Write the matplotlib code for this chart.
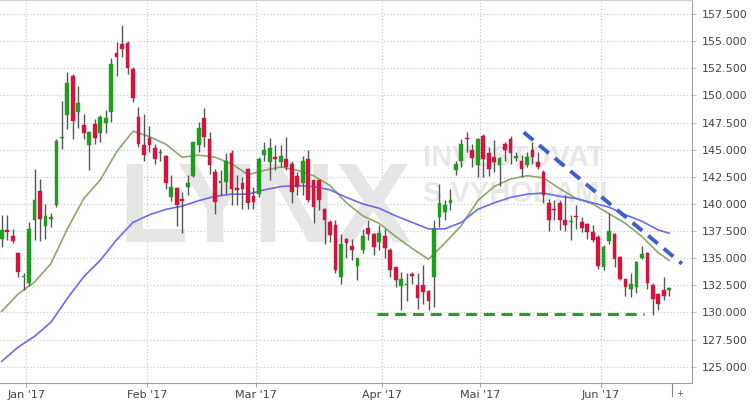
import numpy as np
import pandas as pd
import matplotlib
matplotlib.use("Agg")
import matplotlib.pyplot as plt
from matplotlib.patches import Rectangle
import matplotlib.transforms as mtransforms

# ---------------- data ----------------
holidays = ["2016-12-26", "2017-04-14", "2017-04-17", "2017-05-01"]
dates = pd.bdate_range("2016-12-23", "2017-06-19")
dates = dates[~dates.isin(pd.to_datetime(holidays))]

opens = [136.8, 137.55, 137.0, 135.5, 133.25, 132.7, 138.5, 141.2, 138.0, 138.6,
         139.9, 146.05, 148.2, 151.8, 148.5, 147.25, 145.4, 147.4, 146.5, 147.5,
         148.5, 153.9, 154.75, 154.8, 152.45, 148.0, 145.4, 146.1, 145.15, 144.65,
         144.4, 140.65, 141.5, 140.4, 141.55, 142.55, 145.4, 147.95, 146.0, 142.95,
         141.95, 142.0, 144.7, 141.4, 141.95, 143.25, 140.7, 140.95, 144.5, 143.85,
         144.3, 143.85, 144.1, 143.65, 142.6, 141.95, 144.1, 142.2, 142.2, 139.5,
         138.35, 138.05, 133.3, 136.8, 136.1, 134.25, 135.75, 137.8, 137.2, 136.5,
         137.0, 135.8, 134.15, 132.45, 132.5, 133.5, 132.5, 132.5, 132.0, 133.3,
         138.8, 139.25, 140.05, 143.1, 144.0, 146.05, 144.95, 143.55, 146.3, 144.7,
         144.35, 143.55, 145.5, 146.0, 144.2, 144.0, 143.55, 145.0, 143.85, 142.95,
         140.05, 139.5, 140.05, 138.5, 138.3, 138.85, 138.35, 138.15, 137.4, 136.95,
         134.2, 136.6, 137.2, 135.1, 133.05, 132.2, 132.35, 135.05, 135.5, 132.5,
         131.7, 132.05, 132.1]
highs = [139.0, 139.0, 137.7, 135.6, 133.6, 138.3, 143.2, 142.3, 140.0, 139.2,
         146.0, 149.5, 152.15, 152.0, 150.9, 148.3, 146.7, 147.85, 148.15, 148.7,
         153.4, 154.9, 156.45, 155.0, 152.6, 148.9, 148.3, 147.15, 145.5, 145.1,
         144.5, 142.7, 141.55, 141.1, 142.65, 145.75, 147.55, 148.85, 146.6, 143.25,
         143.1, 144.65, 144.95, 142.65, 142.5, 143.3, 141.55, 144.3, 145.7, 146.1,
         145.4, 145.4, 146.15, 144.0, 142.95, 144.4, 144.95, 142.25, 142.25, 139.6,
         138.5, 138.5, 137.25, 136.85, 136.8, 135.05, 137.7, 138.55, 137.3, 138.1,
         137.7, 135.9, 134.2, 133.75, 133.6, 133.75, 133.6, 134.35, 132.05, 138.5,
         141.85, 140.35, 141.4, 144.0, 146.0, 146.6, 145.5, 146.05, 146.45, 145.25,
         145.85, 144.35, 145.7, 146.25, 144.8, 144.55, 144.8, 145.7, 144.8, 143.1,
         140.5, 140.35, 140.35, 140.8, 138.95, 139.9, 138.8, 138.25, 138.05, 137.1,
         136.2, 139.15, 137.3, 135.2, 133.1, 133.65, 134.7, 136.1, 135.55, 132.7,
         131.8, 133.3, 132.3]
lows = [136.0, 136.7, 136.4, 133.3, 132.1, 132.4, 136.7, 136.6, 136.75, 137.9,
        139.7, 145.1, 146.9, 146.0, 147.0, 146.0, 143.1, 145.5, 145.7, 146.5,
        147.55, 151.8, 153.5, 152.0, 149.4, 145.25, 144.0, 144.8, 143.65, 144.0,
        141.4, 140.3, 138.0, 137.3, 140.8, 142.5, 144.8, 145.25, 142.8, 139.05,
        140.8, 140.95, 139.9, 139.9, 139.5, 139.55, 139.55, 140.65, 144.0, 142.2,
        143.1, 143.4, 143.1, 140.05, 140.8, 140.8, 140.2, 138.2, 139.4, 136.35,
        136.5, 133.6, 132.65, 135.0, 134.8, 133.0, 135.45, 136.65, 135.3, 135.75,
        135.0, 133.3, 132.35, 130.2, 131.1, 132.65, 130.35, 130.8, 130.2, 130.5,
        137.9, 138.5, 139.4, 142.65, 143.4, 144.8, 143.4, 142.5, 142.5, 142.55,
        142.95, 141.65, 144.0, 143.7, 144.0, 142.5, 143.4, 143.65, 143.25, 140.05,
        137.5, 138.5, 137.6, 137.5, 136.65, 137.65, 137.4, 136.8, 136.5, 134.05,
        133.9, 136.3, 134.2, 132.95, 131.5, 131.45, 131.75, 134.95, 132.2, 129.75,
        130.2, 131.15, 131.5]
closes = [137.6, 137.45, 136.6, 133.7, 133.35, 137.7, 140.4, 138.6, 138.9, 138.75,
          145.8, 146.15, 151.1, 147.6, 149.3, 146.55, 146.6, 146.1, 148.0, 147.9,
          152.9, 153.5, 154.3, 152.5, 149.8, 145.55, 144.5, 145.4, 144.1, 144.75,
          141.9, 141.6, 139.9, 140.3, 141.9, 145.7, 147.0, 146.15, 143.55, 140.2,
          142.05, 144.0, 141.4, 141.3, 141.4, 140.05, 140.2, 144.1, 144.95, 145.15,
          144.1, 144.4, 143.4, 141.1, 141.55, 143.95, 140.35, 139.7, 140.35, 138.55,
          137.1, 133.9, 136.35, 136.4, 135.75, 135.0, 137.0, 137.25, 136.05, 137.35,
          135.9, 133.95, 133.0, 133.05, 132.6, 133.4, 131.3, 131.9, 131.05, 137.65,
          140.05, 139.9, 140.35, 143.65, 145.5, 145.95, 144.2, 146.0, 144.1, 143.25,
          143.85, 144.2, 145.0, 144.65, 144.4, 143.25, 144.35, 144.35, 143.4, 140.8,
          138.5, 139.4, 138.55, 138.05, 138.4, 138.75, 137.8, 137.4, 136.65, 134.25,
          136.0, 137.5, 134.9, 133.05, 132.3, 132.65, 134.65, 135.35, 132.75, 131.2,
          130.8, 131.5, 132.25]

# moving averages, every third trading day (plus the last day)
ma_days = list(range(0, 121, 3)) + [122]
ma_short = [130.1, 131.7, 132.8, 134.5, 137.7, 140.5, 142.2, 144.8, 146.7, 146.2,
            145.5, 144.3, 144.5, 144.3, 143.7, 142.7, 143.1, 143.4, 143.1, 142.6,
            141.7, 140.1, 138.9, 138.2, 137.0, 135.9, 134.9, 136.4, 138.0, 140.3,
            141.6, 142.3, 142.6, 142.4, 141.4, 140.5, 140.0, 139.1, 138.2, 137.0,
            135.5, 134.8]
ma_long = [125.5, 126.8, 127.8, 129.1, 131.3, 133.3, 134.8, 136.7, 138.3, 139.0,
           139.5, 139.8, 140.3, 140.7, 140.9, 140.9, 141.3, 141.6, 141.7, 141.6,
           141.3, 140.6, 140.0, 139.6, 138.9, 138.3, 137.7, 137.7, 138.3, 139.5,
           140.1, 140.6, 140.9, 141.0, 140.7, 140.5, 140.1, 139.7, 139.0, 138.4,
           137.6, 137.3]

# hand-drawn trend lines (trading-day index, price)
resist_x = [95.4, 124.3]
resist_y = [146.6, 134.5]
support_x = [68.6, 117.3]
support_y = [129.85, 129.85]

month_labels = ["Jan '17", "Feb '17", "Mar '17", "Apr '17", "Mai '17", "Jun '17"]
y_ticks = np.arange(125.0, 157.6, 2.5)

# ---------------- figure ----------------
fig = plt.figure(figsize=(7.52, 4.03), dpi=100)
ax = fig.add_axes([0, 20 / 403, 691.7 / 752, 383 / 403])
ax.set_facecolor("white")

n = len(dates)
idx = np.arange(n)

# watermark
wm_font = ["Liberation Sans", "DejaVu Sans"]
ax.text(0.383, 0.368, "LYNX", transform=ax.transAxes, ha="center", va="baseline",
        fontsize=82, fontweight="bold", color="#e6e6e6", zorder=1, family=wm_font)
ax.text(0.6115, 0.567, "INVESTOVAT", transform=ax.transAxes, ha="left", va="baseline",
        fontsize=21, fontweight="bold", color="#e8e8e8", zorder=1, family=wm_font)
ax.text(0.6115, 0.4726, "S VÝHODAMI", transform=ax.transAxes, ha="left", va="baseline",
        fontsize=21, fontweight="bold", color="#e8e8e8", zorder=1, family=wm_font)

# moving averages
ax.plot(ma_days, ma_short, color="#8aa66e", lw=1.2, zorder=3)
ax.plot(ma_days, ma_long, color="#6a6af2", lw=1.2, zorder=3)

# candles
green = "#1f9d1f"
red = "#d3143c"
bw = 0.68
for i in idx:
    o, h, l, c = opens[i], highs[i], lows[i], closes[i]
    ax.vlines(i, l, h, color="#555555", lw=1.0, zorder=4)
    bottom = min(o, c)
    height = max(abs(c - o), 0.13)
    col = green if c >= o else red
    ax.add_patch(Rectangle((i - bw / 2, bottom), bw, height, facecolor=col,
                           edgecolor=col, lw=0.3, zorder=5))

# trend lines
ax.plot(resist_x, resist_y, color="#3a5ed4", lw=2.8, ls=(0, (3.2, 2.0)), zorder=6,
        dash_capstyle="butt")
ax.plot(support_x, support_y, color="#24a024", lw=2.2, ls=(0, (3.6, 2.2)), zorder=6,
        dash_capstyle="butt")

# axes
ax.set_xlim(-0.31, 126.1)
ax.set_ylim(123.5, 158.79)

first_idx = [int(np.argmax((dates.year == 2017) & (dates.month == m))) for m in range(1, 7)]
ax.set_xticks([i - 0.5 for i in first_idx])
ax.set_xticklabels(month_labels)

ax.yaxis.tick_right()
ax.set_yticks(y_ticks)
ax.set_yticklabels([f"{v:.3f}" for v in y_ticks])

ax.grid(True, linestyle=(0, (1, 2)), color="#c4c4c4", lw=0.8, zorder=0)
ax.set_axisbelow(True)

ax.tick_params(axis="x", length=3, width=0.8, color="#aaaaaa", labelsize=8,
               labelcolor="#444444", pad=2)
ax.tick_params(axis="y", length=3, width=0.8, color="#c4c4c4", labelsize=8,
               labelcolor="#444444", pad=4)

ax.spines["left"].set_visible(False)
ax.spines["right"].set_color("#a0a0a0")
ax.spines["bottom"].set_color("#a0a0a0")
ax.spines["top"].set_color("#d0d0d0")

# end-of-data marker below the axis
trans = mtransforms.blended_transform_factory(ax.transData, ax.transAxes)
end_x = n - 0.5
ax.plot([end_x, end_x], [0, -0.035], transform=trans, color="#888888", lw=0.8,
        clip_on=False)
ax.text(end_x + 0.8, -0.027, "+", transform=trans, ha="left", va="center",
        fontsize=6, color="#555555")

fig.savefig("out.png", dpi=100)
